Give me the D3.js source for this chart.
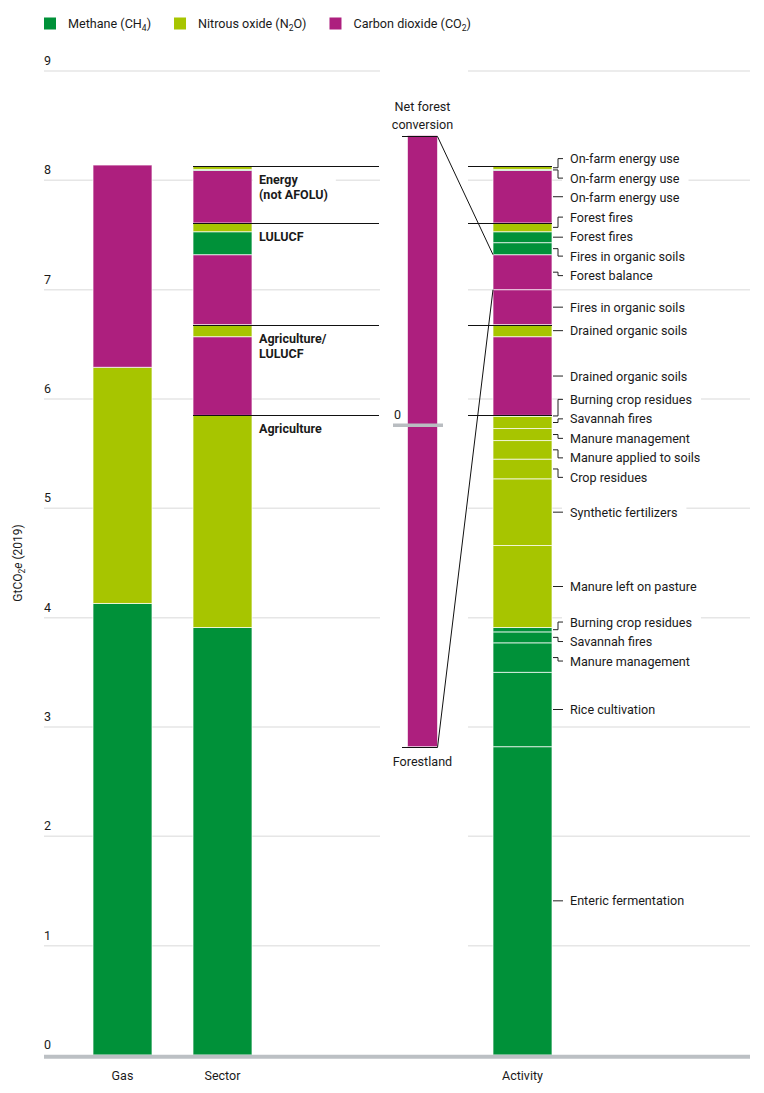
<!DOCTYPE html>
<html lang="en">
<head>
    <meta charset="UTF-8">
    <title>AFOLU emissions by gas, sector and activity</title>
    <script src="https://d3js.org/d3.v7.min.js"></script>
    <style>
        body { margin: 0; background: #fff; }
        svg { display: block; font-family: Roboto, "Noto Sans", Arial, sans-serif; }
        text { fill: #1a1a1a; }
    </style>
</head>
<body>
    <svg width="764" height="1093"></svg>

    <script>
        // gases
        const gasKeys = ["CH4", "N2O", "CO2"];
        const gasNames = ["Methane (CH", "Nitrous oxide (N", "Carbon dioxide (CO"];
        const gasSubs = ["4", "2", "2"];
        const gasTails = [")", "O)", ")"];
        const gasColors = ["#009139", "#a7c500", "#ad1f7e"];

        // "Gas" bar, GtCO2e 2019
        const gasValues = [4.13, 2.16, 1.85];

        // "Sector" bar
        const sectorLabels = [["Agriculture"], ["Agriculture/", "LULUCF"], ["LULUCF"], ["Energy", "(not AFOLU)"]];
        const sectorCO2 = [0, 0.72, 0.64, 0.48];
        const sectorCH4 = [3.91, 0, 0.21, 0.01];
        const sectorN2O = [1.94, 0.11, 0.08, 0.03];

        // "Activity" bar, bottom to top
        const activityNames = ["Enteric fermentation", "Rice cultivation", "Manure management", "Savannah fires",
            "Burning crop residues", "Manure left on pasture", "Synthetic fertilizers", "Crop residues",
            "Manure applied to soils", "Manure management", "Savannah fires", "Burning crop residues",
            "Drained organic soils", "Drained organic soils", "Fires in organic soils", "Forest balance",
            "Fires in organic soils", "Forest fires", "Forest fires", "On-farm energy use", "On-farm energy use",
            "On-farm energy use"];
        const activityGas = ["CH4", "CH4", "CH4", "CH4", "CH4", "N2O", "N2O", "N2O", "N2O", "N2O", "N2O", "N2O",
            "CO2", "N2O", "CO2", "CO2", "CH4", "CH4", "N2O", "CO2", "CH4", "N2O"];
        const activityValues = [2.82, 0.68, 0.27, 0.10, 0.04, 0.75, 0.61, 0.18, 0.17, 0.11, 0.11, 0.01,
            0.72, 0.11, 0.32, 0.32, 0.11, 0.10, 0.08, 0.48, 0.01, 0.03];

        // forest balance breakdown
        const forestNames = [["Net forest", "conversion"], ["Forestland"]];
        const forestValues = [2.65, -2.94];

        const yTicks = [0, 1, 2, 3, 4, 5, 6, 7, 8, 9];
        const columns = ["Gas", "Sector", "gap", "Forest", "Activity"];
        const columnLabels = ["Gas", "Sector", "Activity"];

        // layout
        const forestZero = 5.76;   // where the forest sub-axis zero sits on the main axis
        const barW = 59, forestW = 30;
        const gridLeft = 44, gridRight = 750, gapL = 380, gapR = 468;
        const fs = 12.6;

        const svg = d3.select("svg");
        const y = d3.scaleLinear().domain([0, 9]).range([1055, 71]);
        const x = d3.scalePoint().domain(columns).range([122.5, 522.5]);
        const color = d3.scaleOrdinal().domain(gasKeys).range(gasColors);

        // grid
        const grid = svg.append("g");
        yTicks.filter(t => t > 0).forEach(t => {
            [[gridLeft, gapL], [gapR, gridRight]].forEach(([a, b]) => {
                grid.append("line")
                    .attr("x1", a).attr("x2", b)
                    .attr("y1", y(t)).attr("y2", y(t))
                    .attr("stroke", "#e6e6e6").attr("stroke-width", 1.5);
            });
        });
        svg.append("g").selectAll("text").data(yTicks).join("text")
            .attr("x", gridLeft).attr("y", d => y(d) - 6)
            .attr("font-size", 12.5)
            .text(d => d);

        // y title
        const yt = svg.append("text")
            .attr("transform", "translate(22,563) rotate(-90)")
            .attr("text-anchor", "middle")
            .attr("font-size", 12);
        yt.append("tspan").text("GtCO");
        yt.append("tspan").attr("dy", 3).attr("font-size", 8.5).text("2");
        yt.append("tspan").attr("dy", -3).attr("font-style", "italic").text("e");
        yt.append("tspan").text(" (2019)");

        // legend
        const legend = svg.append("g");
        let lx = 44;
        gasKeys.forEach((k, i) => {
            legend.append("rect").attr("x", lx).attr("y", 17.5).attr("width", 12).attr("height", 12)
                .attr("fill", gasColors[i]);
            const t = legend.append("text").attr("x", lx + 24).attr("y", 28).attr("font-size", fs);
            t.append("tspan").text(gasNames[i]);
            t.append("tspan").attr("dy", 3).attr("font-size", 8.5).text(gasSubs[i]);
            t.append("tspan").attr("dy", -3).text(gasTails[i]);
            lx += 24 + t.node().getComputedTextLength() + 23;
        });

        function stackBar(col, gases, values, width) {
            const ends = d3.cumsum(values);
            const segs = values.map((v, i) => ({ gas: gases[i], v0: ends[i] - v, v1: ends[i], i }));
            svg.append("g").selectAll("rect").data(segs).join("rect")
                .attr("x", x(col) - width / 2)
                .attr("width", width)
                .attr("y", d => y(d.v1))
                .attr("height", d => y(d.v0) - y(d.v1))
                .attr("fill", d => color(d.gas))
                .attr("stroke", "rgba(255,255,255,0.7)")
                .attr("stroke-width", 1);
            return segs;
        }

        // gas bar
        stackBar("Gas", gasKeys, gasValues, barW);

        // sector bar (within a sector: CO2, CH4, N2O)
        const sGas = [], sVal = [];
        sectorLabels.forEach((s, i) => {
            [["CO2", sectorCO2[i]], ["CH4", sectorCH4[i]], ["N2O", sectorN2O[i]]].forEach(([g, v]) => {
                if (v > 0) { sGas.push(g); sVal.push(v); }
            });
        });
        stackBar("Sector", sGas, sVal, barW);

        // activity bar
        const actSegs = stackBar("Activity", activityGas, activityValues, barW);

        // sector boundaries
        const sectorTotals = sectorLabels.map((s, i) => sectorCO2[i] + sectorCH4[i] + sectorN2O[i]);
        const sectorTops = d3.cumsum(sectorTotals);
        const bounds = svg.append("g");
        const sx0 = x("Sector") - barW / 2, sx1 = gapL - 1;
        const ax0 = gapR, ax1 = x("Activity") + barW / 2;
        sectorTops.forEach(t => {
            [[sx0, sx1], [ax0, ax1]].forEach(([a, b]) => {
                bounds.append("line").attr("x1", a).attr("x2", b)
                    .attr("y1", Math.round(y(t)) + 0.5).attr("y2", Math.round(y(t)) + 0.5)
                    .attr("stroke", "#111").attr("stroke-width", 1);
            });
        });

        // sector labels
        sectorLabels.forEach((lines, i) => {
            const top = y(sectorTops[i]);
            const g = svg.append("g");
            const t = g.append("text").attr("font-size", 12.5).attr("font-weight", 700);
            lines.forEach((l, k) => {
                t.append("tspan").attr("x", x("Sector") + barW / 2 + 7).attr("y", top + 18 + k * 15).text(l);
            });
            const bb = t.node().getBBox();
            g.insert("rect", "text")
                .attr("x", x("Sector") + barW / 2 + 1).attr("y", bb.y - 2)
                .attr("width", bb.x + bb.width + 8 - (x("Sector") + barW / 2 + 1))
                .attr("height", bb.height + 4)
                .attr("fill", "#fff");
        });

        // activity labels with simple declutter
        const gap = 19.5;
        const items = actSegs.map(d => ({ name: activityNames[d.i], ideal: y((d.v0 + d.v1) / 2) }))
            .sort((a, b) => a.ideal - b.ideal);
        let clusters = items.map(d => ({ members: [d], c: d.ideal }));
        let merged = true;
        while (merged) {
            merged = false;
            for (let i = 0; i < clusters.length - 1; i++) {
                const a = clusters[i], b = clusters[i + 1];
                const aBot = a.c + (a.members.length - 1) * gap / 2;
                const bTop = b.c - (b.members.length - 1) * gap / 2;
                if (bTop - aBot < gap) {
                    const members = a.members.concat(b.members);
                    const n = members.length;
                    const c = d3.mean(members, (m, k) => m.ideal - (k - (n - 1) / 2) * gap);
                    clusters.splice(i, 2, { members, c });
                    merged = true;
                    break;
                }
            }
        }
        clusters.forEach(cl => cl.members.forEach((m, k) => {
            m.ly = cl.c + (k - (cl.members.length - 1) / 2) * gap;
        }));

        const lx0 = x("Activity") + barW / 2 + 1;
        const labels = svg.append("g");
        items.forEach(d => {
            const g = labels.append("g");
            const t = g.append("text").attr("x", lx0 + 17).attr("y", d.ly + 4.5)
                .attr("font-size", fs).text(d.name);
            const w = t.node().getComputedTextLength();
            g.insert("rect", "text").attr("x", lx0 + 9).attr("y", d.ly - 8)
                .attr("width", w + 17).attr("height", 16).attr("fill", "#fff");
            const path = Math.abs(d.ly - d.ideal) < 1
                ? `M${lx0},${d.ideal}H${lx0 + 10}`
                : `M${lx0},${d.ideal}H${lx0 + 5}V${d.ly}H${lx0 + 10}`;
            g.append("path").attr("d", path).attr("fill", "none")
                .attr("stroke", "#222").attr("stroke-width", 1);
        });

        // forest balance breakdown
        const yf = v => y(forestZero + v);
        const fx = x("Forest");
        const fg = svg.append("g");
        fg.selectAll("rect").data(forestValues).join("rect")
            .attr("x", fx - forestW / 2).attr("width", forestW)
            .attr("y", d => Math.min(yf(0), yf(d)))
            .attr("height", d => Math.abs(yf(d) - yf(0)))
            .attr("fill", color("CO2"))
            .attr("stroke", "rgba(255,255,255,0.6)").attr("stroke-width", 1);
        fg.append("line").attr("x1", fx - 29.5).attr("x2", fx + 20.5)
            .attr("y1", yf(0)).attr("y2", yf(0))
            .attr("stroke", "#b9bdc1").attr("stroke-width", 3.5);
        fg.append("text").attr("x", fx - 28.5).attr("y", yf(0) - 6.5).attr("font-size", 12.5).text("0");

        const fb = actSegs.find(d => activityNames[d.i] === "Forest balance");
        const fbEnds = [fb.v1, fb.v0];
        forestValues.forEach((v, i) => {
            const ey = Math.round(yf(v)) + 0.5;
            fg.append("line").attr("x1", fx - 20.5).attr("x2", fx + forestW / 2)
                .attr("y1", ey).attr("y2", ey).attr("stroke", "#111");
            fg.append("line").attr("x1", fx + forestW / 2).attr("y1", ey)
                .attr("x2", x("Activity") - barW / 2).attr("y2", y(fbEnds[i]))
                .attr("stroke", "#111").attr("stroke-width", 1);
            const lines = forestNames[i];
            lines.forEach((l, k) => {
                const base = v > 0 ? ey - 8 - (lines.length - 1 - k) * 18 : ey + 18 + k * 18;
                fg.append("text").attr("x", fx).attr("y", base)
                    .attr("text-anchor", "middle").attr("font-size", fs).text(l);
            });
        });

        // baseline and column labels
        svg.append("line").attr("x1", gridLeft).attr("x2", gridRight)
            .attr("y1", y(0) + 1.8).attr("y2", y(0) + 1.8)
            .attr("stroke", "#bcc0c4").attr("stroke-width", 4);
        svg.append("g").selectAll("text").data(columnLabels).join("text")
            .attr("x", d => x(d)).attr("y", 1080)
            .attr("text-anchor", "middle").attr("font-size", 12.5)
            .text(d => d);
    </script>
</body>
</html>
